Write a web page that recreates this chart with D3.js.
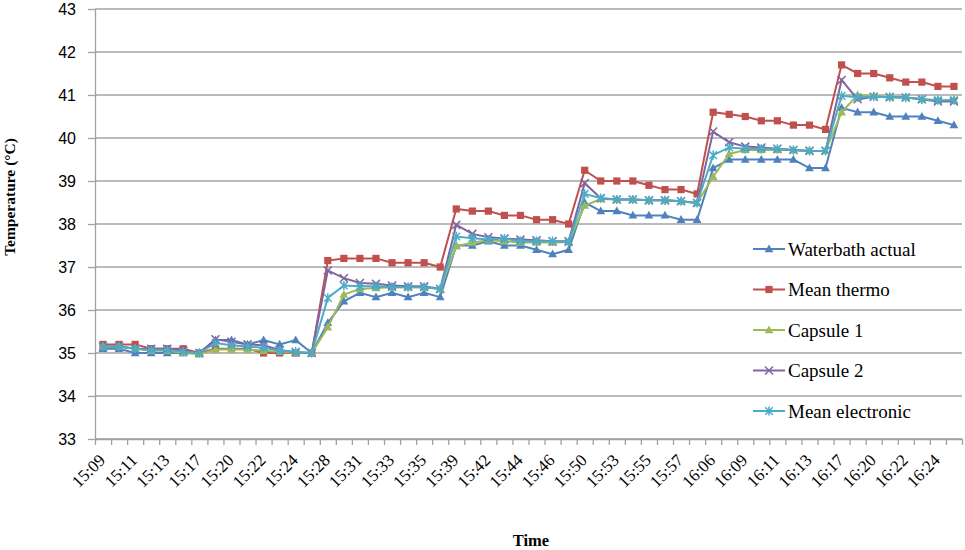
<!DOCTYPE html>
<html>
<head>
<meta charset="utf-8">
<script src="https://cdn.jsdelivr.net/npm/d3@7"></script>
<style>
  body { margin: 0; background: #fff; }
</style>
</head>
<body>
<svg id="chart" width="965" height="550"></svg>
<script>
const times = [
    '15:09', '15:10', '15:11', '15:12', '15:13', '15:15', '15:17', '15:19', '15:20', '15:21',
    '15:22', '15:23', '15:24', '15:26', '15:28', '15:30', '15:31', '15:32', '15:33', '15:34',
    '15:35', '15:37', '15:39', '15:41', '15:42', '15:43', '15:44', '15:45', '15:46', '15:48',
    '15:50', '15:52', '15:53', '15:54', '15:55', '15:56', '15:57', '15:59', '16:06', '16:08',
    '16:09', '16:10', '16:11', '16:12', '16:13', '16:15', '16:17', '16:19', '16:20', '16:21',
    '16:22', '16:23', '16:24', '16:25',
];

const waterbath = [
    35.1, 35.1, 35.0, 35.0, 35.0, 35.0, 35.0, 35.3, 35.3, 35.2, 35.3, 35.2, 35.3, 35.0,
    35.7, 36.2, 36.4, 36.3, 36.4, 36.3, 36.4, 36.3,
    37.5, 37.5, 37.6, 37.5, 37.5, 37.4, 37.3, 37.4,
    38.5, 38.3, 38.3, 38.2, 38.2, 38.2, 38.1, 38.1,
    39.3, 39.5, 39.5, 39.5, 39.5, 39.5, 39.3, 39.3,
    40.7, 40.6, 40.6, 40.5, 40.5, 40.5, 40.4, 40.3,
];

const thermo = [
    35.2, 35.2, 35.2, 35.1, 35.1, 35.1, 35.0, 35.1, 35.1, 35.1, 35.0, 35.0, 35.0, 35.0,
    37.15, 37.2, 37.2, 37.2, 37.1, 37.1, 37.1, 37.0,
    38.35, 38.3, 38.3, 38.2, 38.2, 38.1, 38.1, 38.0,
    39.25, 39.0, 39.0, 39.0, 38.9, 38.8, 38.8, 38.7,
    40.6, 40.55, 40.5, 40.4, 40.4, 40.3, 40.3, 40.2,
    41.7, 41.5, 41.5, 41.4, 41.3, 41.3, 41.2, 41.2,
];

const capsule1 = [
    35.15, 35.15, 35.1, 35.05, 35.05, 35.0, 34.97, 35.08, 35.08, 35.08, 35.05, 35.03, 35.0, 35.0,
    35.6, 36.36, 36.49, 36.51, 36.53, 36.53, 36.53, 36.49,
    37.48, 37.57, 37.62, 37.6, 37.57, 37.57, 37.57, 37.58,
    38.43, 38.58, 38.57, 38.57, 38.55, 38.55, 38.53, 38.49,
    39.1, 39.63, 39.72, 39.72, 39.72, 39.72, 39.7, 39.7,
    40.6, 41.0, 40.98, 40.95, 40.95, 40.9, 40.88, 40.88,
];

const capsule2 = [
    35.15, 35.15, 35.1, 35.1, 35.1, 35.05, 35.0, 35.32, 35.26, 35.2, 35.18, 35.07, 35.02, 35.0,
    36.92, 36.74, 36.63, 36.61, 36.57, 36.55, 36.55, 36.49,
    37.98, 37.77, 37.69, 37.66, 37.64, 37.62, 37.6, 37.6,
    38.95, 38.6, 38.57, 38.57, 38.55, 38.55, 38.53, 38.49,
    40.15, 39.9, 39.8, 39.78, 39.75, 39.72, 39.7, 39.7,
    41.35, 40.9, 40.96, 40.95, 40.94, 40.9, 40.85, 40.85,
];

const electronic = [
    35.15, 35.15, 35.1, 35.07, 35.07, 35.03, 35.0, 35.23, 35.18, 35.15, 35.12, 35.05, 35.03, 35.0,
    36.28, 36.57, 36.55, 36.55, 36.53, 36.53, 36.53, 36.49,
    37.71, 37.67, 37.64, 37.66, 37.6, 37.6, 37.6, 37.58,
    38.7, 38.6, 38.57, 38.57, 38.55, 38.55, 38.53, 38.49,
    39.6, 39.78, 39.75, 39.75, 39.75, 39.72, 39.7, 39.7,
    40.98, 40.95, 40.96, 40.95, 40.94, 40.9, 40.88, 40.88,
];

const seriesNames = ['Waterbath actual', 'Mean thermo', 'Capsule 1', 'Capsule 2', 'Mean electronic'];
const seriesValues = [waterbath, thermo, capsule1, capsule2, electronic];
const seriesColors = ['#4F81BD', '#C0504D', '#9BBB59', '#8064A2', '#4BACC6'];
const seriesMarkers = ['triangle', 'square', 'triangle', 'x', 'asterisk'];

const yTicks = [33, 34, 35, 36, 37, 38, 39, 40, 41, 42, 43];

const svg = d3.select('#chart');
const plotLeft = 95, plotRight = 962, plotTop = 9, plotBottom = 439;

const x = d3.scaleBand().domain(times).range([plotLeft, plotRight]);
const xEdge = d3.scaleLinear().domain([0, times.length]).range([plotLeft, plotRight]);
const y = d3.scaleLinear().domain([33, 43]).range([plotBottom, plotTop]);

// horizontal gridlines
svg.append('g')
    .selectAll('line')
    .data(yTicks)
    .join('line')
    .attr('x1', plotLeft)
    .attr('x2', plotRight)
    .attr('y1', (d) => y(d))
    .attr('y2', (d) => y(d))
    .attr('stroke', '#a3a3a3')
    .attr('stroke-width', 1.3);

// y axis
const yAxis = svg.append('g')
    .attr('transform', `translate(${plotLeft},0)`)
    .call(d3.axisLeft(y).tickValues(yTicks).tickSize(7).tickSizeOuter(0).tickPadding(12).tickFormat(d3.format('d')));
yAxis.select('.domain').attr('stroke', '#a0a0a0').attr('stroke-width', 1.3);
yAxis.selectAll('.tick line').attr('stroke', '#a0a0a0').attr('stroke-width', 1.3);
yAxis.selectAll('.tick text')
    .attr('font-family', '"Liberation Sans", Arial, sans-serif')
    .attr('font-size', 16)
    .attr('fill', '#000');

// x axis: tick marks on category edges
const xAxis = svg.append('g')
    .attr('transform', `translate(0,${plotBottom})`)
    .call(d3.axisBottom(xEdge).tickValues(d3.range(times.length + 1)).tickSize(6).tickSizeOuter(0).tickFormat(''));
xAxis.select('.domain').attr('stroke', '#a0a0a0').attr('stroke-width', 1.3);
xAxis.selectAll('.tick line').attr('stroke', '#a0a0a0').attr('stroke-width', 1.3);

// x labels, every other category
svg.append('g')
    .selectAll('text')
    .data(times.filter((d, i) => i % 2 === 0))
    .join('text')
    .attr('transform', (d) => `translate(${x(d) + x.bandwidth() / 2 - 1},457) rotate(-45)`)
    .attr('text-anchor', 'end')
    .attr('dy', '0.35em')
    .attr('font-family', '"Liberation Serif", "Times New Roman", serif')
    .attr('font-size', 17)
    .attr('fill', '#000')
    .text((d) => d);

// axis titles
svg.append('text')
    .attr('transform', 'translate(15,197) rotate(-90)')
    .attr('text-anchor', 'middle')
    .attr('font-family', '"Liberation Serif", "Times New Roman", serif')
    .attr('font-weight', 'bold')
    .attr('font-size', 15.5)
    .text('Temperature (°C)');

svg.append('text')
    .attr('x', 531)
    .attr('y', 546)
    .attr('text-anchor', 'middle')
    .attr('font-family', '"Liberation Serif", "Times New Roman", serif')
    .attr('font-weight', 'bold')
    .attr('font-size', 16.5)
    .text('Time');

function drawMarker(g, type, color) {
    if (type === 'triangle') {
        g.append('path').attr('d', 'M0,-4.6L4.4,3.2L-4.4,3.2Z').attr('fill', color);
    } else if (type === 'square') {
        g.append('rect').attr('x', -3.6).attr('y', -3.6).attr('width', 7.2).attr('height', 7.2).attr('fill', color);
    } else if (type === 'x') {
        g.append('path').attr('d', 'M-4,-4L4,4M-4,4L4,-4').attr('stroke', color).attr('stroke-width', 1.5).attr('fill', 'none');
    } else {
        g.append('path').attr('d', 'M-3.8,-3.8L3.8,3.8M-3.8,3.8L3.8,-3.8M0,-4.6L0,4.6').attr('stroke', color).attr('stroke-width', 1.5).attr('fill', 'none');
    }
}

const line = d3.line()
    .x((d, i) => x(times[i]) + x.bandwidth() / 2)
    .y((d) => y(d));

seriesValues.forEach((values, s) => {
    const g = svg.append('g');
    g.append('path')
        .datum(values)
        .attr('d', line)
        .attr('fill', 'none')
        .attr('stroke', seriesColors[s])
        .attr('stroke-width', 2);
    g.selectAll('g.marker')
        .data(values)
        .join('g')
        .attr('class', 'marker')
        .attr('transform', (d, i) => `translate(${x(times[i]) + x.bandwidth() / 2},${y(d)})`)
        .each(function () {
            drawMarker(d3.select(this), seriesMarkers[s], seriesColors[s]);
        });
});

// legend
const legend = svg.append('g').attr('transform', 'translate(753,249)');
seriesNames.forEach((name, s) => {
    const item = legend.append('g').attr('transform', `translate(0,${s * 40.5})`);
    item.append('line').attr('x1', 0).attr('x2', 32).attr('stroke', seriesColors[s]).attr('stroke-width', 2);
    drawMarker(item.append('g').attr('transform', 'translate(16,0)'), seriesMarkers[s], seriesColors[s]);
    item.append('text')
        .attr('x', 35)
        .attr('dy', '0.35em')
        .attr('font-family', '"Liberation Serif", "Times New Roman", serif')
        .attr('font-size', 19)
        .attr('fill', '#000')
        .text(name);
});
</script>
</body>
</html>
